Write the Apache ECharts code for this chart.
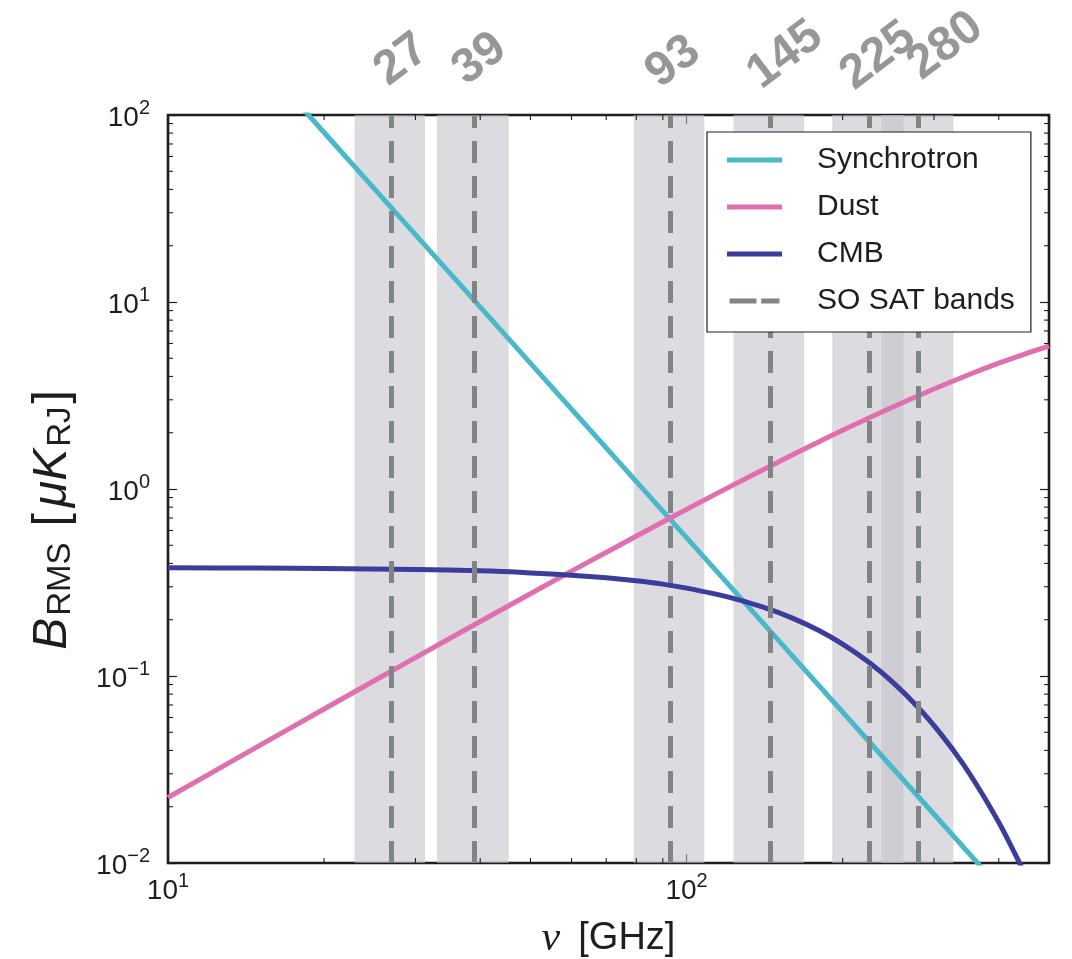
<!DOCTYPE html>
<html>
<head>
<meta charset="utf-8">
<script src="https://cdn.jsdelivr.net/npm/echarts@6/dist/echarts.min.js"></script>
<style>
  html, body { margin: 0; padding: 0; background: #ffffff; }
  #chart { width: 1072px; height: 959px; }
</style>
</head>
<body>
<div id="chart"></div>
<script>
// Foreground amplitudes (B-mode RMS, uK_RJ) against frequency (GHz)
const freqSync = [15, 18, 20, 27, 39, 60, 93, 145, 225, 280, 400];
const sync = [196.7, 111.8, 80.6, 31.8, 10.17, 2.675, 0.688, 0.1736, 0.0445, 0.0226, 0.00747];

const freqDust = [10, 15, 20, 30, 40, 60, 93, 120, 150, 200, 250, 300, 350, 400, 450, 500];
const dust = [0.0224, 0.0424, 0.0666, 0.1254, 0.1957, 0.3637, 0.700, 1.014, 1.391, 2.059, 2.745, 3.426, 4.084, 4.707, 5.286, 5.81];

const freqCMB = [10, 15, 20, 30, 40, 50, 60, 70, 80, 90, 100, 120, 140, 160, 180, 200, 225, 250, 280, 310, 340, 370, 400, 420, 440, 460];
const cmb = [0.379, 0.378, 0.376, 0.371, 0.365, 0.356, 0.346, 0.335, 0.323, 0.310, 0.295, 0.265, 0.234, 0.204, 0.175, 0.148, 0.118, 0.0924, 0.0677, 0.0486, 0.0344, 0.0239, 0.0165, 0.01275, 0.00984, 0.00756];

// SO SAT frequency bands: centre and edges (GHz)
const bandCenters = [27, 39, 93, 145, 225, 280];
const bandLow = [22.9, 33.0, 79.1, 123.2, 190.9, 237.6];
const bandHigh = [31.3, 45.4, 108.2, 168.6, 261.9, 327.0];
const bandLabels = ['27', '39', '93', '145', '225', '280'];

const FONT = '"Liberation Sans", Arial, sans-serif';
const INK = '#1e1e1e';
const COLORS = { sync: '#4ab8cb', dust: '#e16fb0', cmb: '#3a3d9b', band: '#808585' };
const LINE_W = 5;
const DASH = [22, 13];
// offsets of the rotated band labels from the band centre line (px), and their centre heights
const labelDx = [10, 5, 3, 15, 9, 27];
const labelY = [60, 59, 62, 55, 56, 46];

const pairs = (xs, ys) => xs.map((x, i) => [x, ys[i]]);

function powLabel(v) {
  const lg = Math.log10(v);
  const e = Math.round(lg);
  if (Math.abs(lg - e) > 1e-6) return '';
  const s = e < 0 ? '\u2212' + (-e) : String(e);
  return '{b|10}{s|' + s + '}';
}
const powRich = {
  b: { fontFamily: FONT, fontSize: 28, lineHeight: 34, color: INK, verticalAlign: 'bottom' },
  s: { fontFamily: FONT, fontSize: 20, lineHeight: 20, color: INK, verticalAlign: 'top' }
};

function logAxis(dim, pos, min, max, showLabels) {
  return {
    type: 'log', logBase: 10, min: min, max: max, position: pos,
    axisLine: { show: false },
    axisTick: { show: true, inside: true, length: 9, lineStyle: { color: INK, width: 1.2 } },
    axisLabel: {
      show: showLabels, formatter: powLabel, rich: powRich,
      margin: dim === 'x' ? 8 : 18, showMaxLabel: dim === 'x' ? false : true
    },
    splitLine: { show: false },
    minorTick: { show: false },
    nameMoveOverlap: false
  };
}

const chart = echarts.init(document.getElementById('chart'), null, { renderer: 'canvas' });

const option = {
  animation: false,
  backgroundColor: '#ffffff',
  grid: {
    left: 168, top: 115, right: 23, bottom: 96,
    outerBoundsMode: 'none', containLabel: false,
    show: true, borderColor: INK, borderWidth: 2.6, backgroundColor: 'transparent'
  },
  xAxis: [
    Object.assign(logAxis('x', 'bottom', 10, 500, true), {
      name: '{nu|\u03bd}[GHz]', nameLocation: 'middle', nameGap: 55,
      nameTextStyle: {
        fontFamily: FONT, fontSize: 38, color: INK,
        rich: { nu: { fontFamily: '"Liberation Serif", serif', fontStyle: 'italic', fontSize: 42, color: INK, padding: [0, 18, 0, 0] } }
      }
    }),
    logAxis('x', 'top', 10, 500, false)
  ],
  yAxis: [
    logAxis('y', 'left', 0.01, 100, true),
    logAxis('y', 'right', 0.01, 100, false)
  ],
  legend: {
    data: [
      { name: 'Synchrotron', icon: 'rect' },
      { name: 'Dust', icon: 'rect' },
      { name: 'CMB', icon: 'rect' },
      { name: 'SO SAT bands', icon: 'path://M0,0H28V5.2H0Z M33,0H52V5.2H33Z' }
    ],
    orient: 'vertical', left: 707, top: 132,
    backgroundColor: '#ffffff', borderColor: INK, borderWidth: 1.2, borderRadius: 0,
    padding: [13, 16, 16, 20],
    itemWidth: 55, itemHeight: 5, itemGap: 17,
    textStyle: { fontFamily: FONT, fontSize: 30, color: INK, lineHeight: 30, padding: [0, 0, 0, 30] },
    selectedMode: false,
    z: 10
  },
  series: [
    {
      name: 'bandFill', type: 'line', data: [], z: 1, silent: true,
      markArea: {
        silent: true,
        itemStyle: { color: 'rgba(194,194,200,0.57)' },
        data: bandLow.map((lo, i) => [{ xAxis: lo }, { xAxis: bandHigh[i] }])
      }
    },
    {
      name: 'Synchrotron', type: 'line', data: pairs(freqSync, sync), z: 3,
      showSymbol: false, symbol: 'none', smooth: false, clip: true,
      lineStyle: { color: COLORS.sync, width: LINE_W }, itemStyle: { color: COLORS.sync }
    },
    {
      name: 'Dust', type: 'line', data: pairs(freqDust, dust), z: 3,
      showSymbol: false, symbol: 'none', smooth: 0.3, clip: true,
      lineStyle: { color: COLORS.dust, width: LINE_W }, itemStyle: { color: COLORS.dust }
    },
    {
      name: 'CMB', type: 'line', data: pairs(freqCMB, cmb), z: 3,
      showSymbol: false, symbol: 'none', smooth: 0.3, clip: true,
      lineStyle: { color: COLORS.cmb, width: LINE_W }, itemStyle: { color: COLORS.cmb }
    },
    {
      name: 'SO SAT bands', type: 'line', data: [], z: 4,
      showSymbol: false, symbol: 'none',
      lineStyle: { color: COLORS.band, width: LINE_W, type: DASH }, itemStyle: { color: COLORS.band },
      markLine: {
        silent: true, symbol: ['none', 'none'],
        label: { show: false },
        lineStyle: { color: COLORS.band, width: LINE_W, type: DASH },
        data: bandCenters.map(v => ({ xAxis: v }))
      }
    }
  ]
};

chart.setOption(option);

// Minor ticks at 2..9 x 10^k on all four sides, placed through the axis scales
const px = v => chart.convertToPixel({ xAxisIndex: 0 }, v);
const py = v => chart.convertToPixel({ yAxisIndex: 0 }, v);
const xL = px(10), xR = px(500), yT = py(100), yB = py(0.01);
const graphics = [];
const tickStyle = { stroke: INK, lineWidth: 1.1 };
const MINOR = 5;
[10, 100].forEach(d => {
  for (let m = 2; m <= 9; m++) {
    const v = d * m;
    if (v >= 500) continue;
    const x = px(v);
    graphics.push({ type: 'line', silent: true, z: 20, shape: { x1: x, y1: yB, x2: x, y2: yB - MINOR }, style: tickStyle });
    graphics.push({ type: 'line', silent: true, z: 20, shape: { x1: x, y1: yT, x2: x, y2: yT + MINOR }, style: tickStyle });
  }
});
[0.01, 0.1, 1, 10].forEach(d => {
  for (let m = 2; m <= 9; m++) {
    const y = py(d * m);
    graphics.push({ type: 'line', silent: true, z: 20, shape: { x1: xL, y1: y, x2: xL + MINOR, y2: y }, style: tickStyle });
    graphics.push({ type: 'line', silent: true, z: 20, shape: { x1: xR, y1: y, x2: xR - MINOR, y2: y }, style: tickStyle });
  }
});

// Rotated band labels above the frame
bandCenters.forEach((v, i) => {
  graphics.push({
    type: 'text', silent: true, z: 20,
    x: px(v) + labelDx[i], y: labelY[i],
    rotation: 37 * Math.PI / 180,
    style: {
      text: bandLabels[i], fill: '#979797',
      font: 'bold 48px ' + FONT, align: 'center', verticalAlign: 'middle'
    }
  });
});

// Vertical axis title
graphics.push({
  type: 'text', silent: true, z: 20,
  x: 50, y: 520, rotation: Math.PI / 2,
  style: {
    text: '{i|B}{sb|RMS}{lb|[}{i|\u03bcK}{sb|RJ}{rb|]}',
    align: 'center', verticalAlign: 'middle', fill: INK,
    rich: {
      i: { fontFamily: FONT, fontStyle: 'italic', fontSize: 48, lineHeight: 54, verticalAlign: 'bottom', fill: INK },
      lb: { fontFamily: FONT, fontSize: 48, lineHeight: 54, verticalAlign: 'bottom', fill: INK, padding: [0, 6, 0, 16] },
      rb: { fontFamily: FONT, fontSize: 48, lineHeight: 54, verticalAlign: 'bottom', fill: INK, padding: [0, 0, 0, 3] },
      sb: { fontFamily: FONT, fontSize: 33, lineHeight: 34, verticalAlign: 'bottom', fill: INK, padding: [0, 0, 0, 2] }
    }
  }
});

chart.setOption({ graphic: graphics });
</script>
</body>
</html>
